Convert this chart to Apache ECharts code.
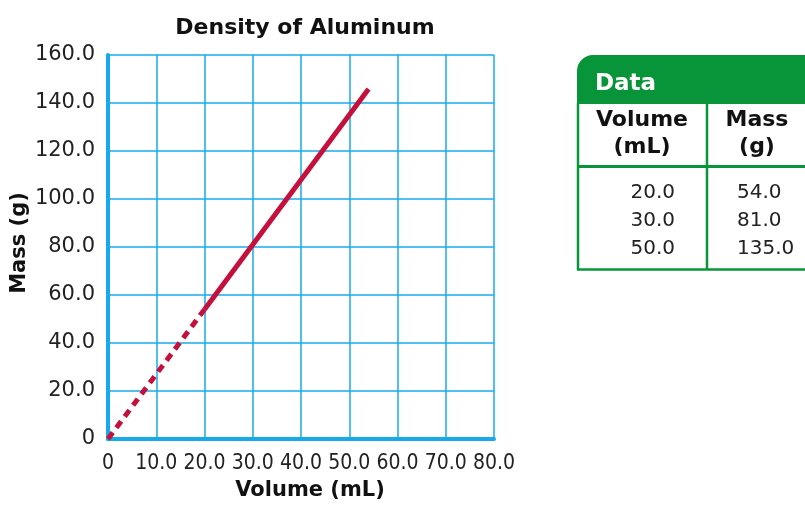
<!DOCTYPE html>
<html>
<head>
<meta charset="utf-8">
<script src="https://cdn.jsdelivr.net/npm/echarts@6/dist/echarts.min.js"></script>
<style>html,body{margin:0;padding:0;background:#fff;}#c{width:805px;height:506px;}</style>
</head>
<body>
<div id="c"></div>
<script>
var titleText = 'Density of Aluminum';
var xName = 'Volume (mL)';
var yName = 'Mass (g)';
var volumes = [20.0, 30.0, 50.0];
var masses = [54.0, 81.0, 135.0];
var dashedLine = [[0, 0], [20, 54]];
var solidLine = [[20, 54], [54, 145.8]];
var tableTitle = 'Data';
var tableHeaders = [['Volume', '(mL)'], ['Mass', '(g)']];

var BLUE = '#17aaea';
var RED = '#c4103a';
var GREEN = '#089438';
var FONT = '"DejaVu Sans", "Noto Sans", sans-serif';
var CFONT = '"DejaVu Sans Condensed", "DejaVu Sans", sans-serif';

function fmt(v) { return v === 0 ? '0' : v.toFixed(1); }

var chart = echarts.init(document.getElementById('c'));

var graphics = [];
graphics.push({type: 'rect', shape: {x: 577, y: 55, width: 240, height: 49, r: [16, 0, 0, 0]}, style: {fill: GREEN}});
graphics.push({type: 'text', x: 595, y: 84, style: {text: tableTitle, fill: '#fff', font: 'bold 23px ' + FONT, textVerticalAlign: 'middle'}});
graphics.push({type: 'line', shape: {x1: 578, y1: 103, x2: 578, y2: 270}, style: {stroke: GREEN, lineWidth: 2.5}});
graphics.push({type: 'line', shape: {x1: 707, y1: 103, x2: 707, y2: 270}, style: {stroke: GREEN, lineWidth: 2.5}});
graphics.push({type: 'line', shape: {x1: 577, y1: 166.5, x2: 805, y2: 166.5}, style: {stroke: GREEN, lineWidth: 3}});
graphics.push({type: 'line', shape: {x1: 577, y1: 269.5, x2: 805, y2: 269.5}, style: {stroke: GREEN, lineWidth: 2.5}});
var colCenters = [642, 757];
tableHeaders.forEach(function (h, i) {
  graphics.push({type: 'text', x: colCenters[i], y: 120, style: {text: h[0], fill: '#111', font: 'bold 22px ' + FONT, textAlign: 'center', textVerticalAlign: 'middle'}});
  graphics.push({type: 'text', x: colCenters[i], y: 147, style: {text: h[1], fill: '#111', font: 'bold 22px ' + FONT, textAlign: 'center', textVerticalAlign: 'middle'}});
});
var rowY = [193, 221, 249];
volumes.forEach(function (v, i) {
  graphics.push({type: 'text', x: 675, y: rowY[i], style: {text: v.toFixed(1), fill: '#222', font: '20px ' + FONT, textAlign: 'right', textVerticalAlign: 'middle'}});
});
masses.forEach(function (m, i) {
  graphics.push({type: 'text', x: 737, y: rowY[i], style: {text: m.toFixed(1), fill: '#222', font: '20px ' + FONT, textAlign: 'left', textVerticalAlign: 'middle'}});
});

chart.setOption({
  animation: false,
  textStyle: {fontFamily: FONT},
  title: {text: titleText, left: 300, top: 12, textAlign: 'center',
    textStyle: {fontSize: 22, fontWeight: 'bold', color: '#111', fontFamily: FONT}},
  grid: {left: 108, right: 311, top: 55, bottom: 66, containLabel: false},
  xAxis: {
    type: 'value', min: 0, max: 80, interval: 10,
    name: xName, nameLocation: 'middle', nameGap: 41,
    nameTextStyle: {fontSize: 21, fontWeight: 'bold', color: '#111', fontFamily: FONT, padding: [0, 0, 0, 18]},
    axisLine: {show: true, onZero: false, lineStyle: {color: BLUE, width: 4}},
    axisTick: {show: false},
    axisLabel: {formatter: fmt, fontSize: 21, color: '#222', margin: 14, fontFamily: CFONT},
    splitLine: {show: true, lineStyle: {color: BLUE, width: 1.5}}
  },
  yAxis: {
    type: 'value', min: 0, max: 160, interval: 20,
    name: yName, nameLocation: 'middle', nameGap: 78, nameRotate: 90,
    nameTextStyle: {fontSize: 21, fontWeight: 'bold', color: '#111', fontFamily: FONT, padding: [0, 0, 0, 8]},
    axisLine: {show: true, lineStyle: {color: BLUE, width: 4}},
    axisTick: {show: false},
    axisLabel: {formatter: fmt, fontSize: 21, color: '#222', margin: 13, fontFamily: FONT},
    splitLine: {show: true, lineStyle: {color: BLUE, width: 1.5}}
  },
  series: [
    {type: 'line', data: dashedLine, symbol: 'none', silent: true,
      lineStyle: {color: RED, width: 5, type: [8, 6]}},
    {type: 'line', data: solidLine, symbol: 'none', silent: true,
      lineStyle: {color: RED, width: 5}}
  ],
  graphic: graphics
});
</script>
</body>
</html>
